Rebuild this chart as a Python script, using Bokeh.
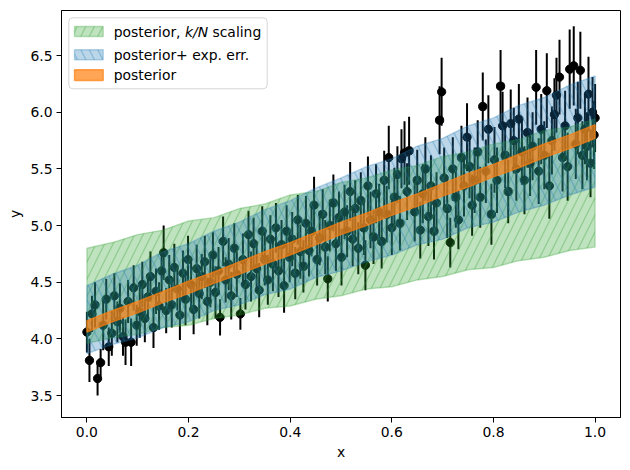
import numpy as np
from bokeh.plotting import figure
from bokeh.models import (Range1d, FixedTicker, PrintfTickFormatter, ColumnDataSource,
                          BoxAnnotation, Label)
from bokeh.embed import file_html
from bokeh.resources import INLINE

# ---------------- data ----------------
x_pts = [0.000, 0.005, 0.010, 0.016, 0.021, 0.027, 0.032, 0.038, 0.043, 0.049,
         0.054, 0.060, 0.065, 0.071, 0.076, 0.081, 0.087, 0.092, 0.098, 0.104,
         0.109, 0.114, 0.120, 0.125, 0.131, 0.136, 0.142, 0.147, 0.151, 0.156,
         0.162, 0.167, 0.172, 0.178, 0.183, 0.189, 0.194, 0.199, 0.205, 0.210,
         0.216, 0.221, 0.226, 0.232, 0.237, 0.243, 0.248, 0.253, 0.259, 0.262,
         0.268, 0.273, 0.279, 0.284, 0.290, 0.295, 0.302, 0.307, 0.312, 0.318,
         0.323, 0.328, 0.334, 0.339, 0.345, 0.350, 0.356, 0.361, 0.366, 0.372,
         0.377, 0.383, 0.388, 0.393, 0.399, 0.404, 0.410, 0.415, 0.420, 0.426,
         0.431, 0.437, 0.442, 0.447, 0.453, 0.458, 0.464, 0.469, 0.474, 0.478,
         0.485, 0.490, 0.496, 0.501, 0.507, 0.512, 0.518, 0.523, 0.528, 0.534,
         0.539, 0.545, 0.548, 0.553, 0.558, 0.564, 0.569, 0.575, 0.580, 0.585,
         0.590, 0.594, 0.600, 0.605, 0.611, 0.616, 0.619, 0.625, 0.630, 0.634,
         0.645, 0.650, 0.656, 0.661, 0.666, 0.672, 0.677, 0.683, 0.688, 0.694,
         0.698, 0.703, 0.709, 0.715, 0.720, 0.726, 0.731, 0.737, 0.742, 0.748,
         0.753, 0.758, 0.763, 0.769, 0.774, 0.779, 0.785, 0.790, 0.796, 0.802,
         0.807, 0.814, 0.818, 0.823, 0.829, 0.834, 0.840, 0.845, 0.850, 0.856,
         0.861, 0.867, 0.872, 0.877, 0.884, 0.889, 0.894, 0.900, 0.905, 0.910,
         0.915, 0.920, 0.924, 0.930, 0.936, 0.941, 0.946, 0.950, 0.958, 0.962,
         0.966, 0.971, 0.975, 0.980, 0.984, 0.987, 0.991, 0.995, 0.998, 1.000]
y_pts = [4.06, 3.81, 4.22, 4.30, 3.65, 3.79, 4.12, 4.35, 3.93, 4.05,
         4.38, 4.15, 4.27, 4.02, 3.97, 4.33, 3.97, 4.45, 4.12, 4.24,
         4.48, 4.18, 4.37, 4.55, 4.10, 4.42, 4.29, 4.60, 4.76, 4.25,
         4.52, 4.30, 4.63, 4.44, 4.21, 4.58, 4.35, 4.70, 4.48, 4.26,
         4.62, 4.40, 4.55, 4.68, 4.33, 4.50, 4.74, 4.41, 4.60, 4.19,
         4.86, 4.52, 4.66, 4.38, 4.80, 4.57, 4.22, 4.70, 4.48, 4.92,
         4.55, 4.84, 4.62, 4.43, 4.95, 4.70, 4.52, 4.88, 4.66, 4.98,
         4.60, 4.83, 4.47, 4.95, 4.72, 4.88, 4.58, 5.05, 4.77, 4.64,
         5.02, 4.78, 4.95, 5.18, 4.70, 4.89, 5.10, 4.81, 4.53, 5.00,
         5.20, 4.84, 5.07, 4.72, 5.12, 4.95, 5.30, 4.88, 5.15, 4.80,
         5.22, 4.98, 4.65, 5.35, 5.05, 4.90, 5.28, 5.12, 4.86, 5.40,
         5.10, 5.60, 4.98, 5.25, 5.45, 5.02, 5.59, 5.64, 5.30, 5.66,
         5.12, 5.40, 4.96, 5.28, 5.50, 5.08, 5.35, 4.95, 5.20, 5.93,
         6.18, 5.42, 5.15, 4.85, 5.50, 5.25, 5.05, 5.60, 5.35, 5.78,
         5.52, 5.18, 5.40, 5.65, 5.25, 6.05, 5.48, 5.85, 5.10, 5.58,
         5.40, 6.23, 5.88, 5.62, 5.30, 5.90, 5.75, 5.50, 5.94, 5.65,
         5.40, 5.82, 5.55, 5.70, 6.22, 5.48, 5.85, 5.62, 6.19, 5.35,
         5.75, 5.98, 6.15, 6.31, 5.60, 5.88, 5.52, 6.38, 6.41, 5.72,
         5.95, 6.37, 5.62, 5.85, 5.70, 6.16, 5.55, 6.00, 5.80, 5.95]
err_pts = [0.18, 0.19, 0.16, 0.20, 0.15, 0.12, 0.22, 0.18, 0.17, 0.20,
           0.20, 0.18, 0.22, 0.17, 0.20, 0.19, 0.21, 0.20, 0.18, 0.23,
           0.20, 0.21, 0.19, 0.22, 0.18, 0.20, 0.21, 0.19, 0.24, 0.20,
           0.22, 0.20, 0.21, 0.19, 0.22, 0.20, 0.23, 0.21, 0.20, 0.22,
           0.21, 0.22, 0.20, 0.23, 0.21, 0.22, 0.20, 0.23, 0.21, 0.16,
           0.22, 0.20, 0.23, 0.21, 0.22, 0.20, 0.14, 0.23, 0.22, 0.21,
           0.22, 0.23, 0.21, 0.24, 0.22, 0.23, 0.22, 0.21, 0.24, 0.22,
           0.23, 0.22, 0.24, 0.23, 0.22, 0.24, 0.23, 0.22, 0.24, 0.23,
           0.24, 0.23, 0.22, 0.25, 0.23, 0.24, 0.22, 0.24, 0.20, 0.23,
           0.25, 0.24, 0.23, 0.25, 0.24, 0.23, 0.26, 0.24, 0.25, 0.23,
           0.25, 0.24, 0.22, 0.26, 0.25, 0.24, 0.26, 0.25, 0.24, 0.26,
           0.25, 0.28, 0.24, 0.26, 0.25, 0.24, 0.26, 0.28, 0.25, 0.30,
           0.26, 0.27, 0.25, 0.26, 0.28, 0.26, 0.27, 0.25, 0.27, 0.30,
           0.30, 0.27, 0.26, 0.22, 0.28, 0.27, 0.26, 0.28, 0.27, 0.30,
           0.28, 0.27, 0.29, 0.28, 0.27, 0.30, 0.28, 0.30, 0.27, 0.29,
           0.29, 0.32, 0.30, 0.29, 0.28, 0.30, 0.29, 0.28, 0.31, 0.29,
           0.30, 0.31, 0.29, 0.30, 0.33, 0.29, 0.31, 0.30, 0.33, 0.29,
           0.30, 0.32, 0.33, 0.33, 0.30, 0.31, 0.30, 0.35, 0.35, 0.31,
           0.32, 0.34, 0.30, 0.31, 0.30, 0.33, 0.30, 0.31, 0.30, 0.30]

band_x = [0.00, 0.05, 0.10, 0.15, 0.20, 0.25, 0.30, 0.35, 0.40, 0.45, 0.50,
          0.55, 0.60, 0.65, 0.70, 0.75, 0.80, 0.85, 0.90, 0.95, 1.00]
green_lo = [3.96, 4.01, 4.04, 4.10, 4.12, 4.18, 4.21, 4.27, 4.29, 4.35, 4.38,
            4.44, 4.46, 4.52, 4.55, 4.61, 4.63, 4.69, 4.72, 4.78, 4.81]
green_hi = [4.80, 4.85, 4.92, 4.96, 5.04, 5.07, 5.15, 5.19, 5.27, 5.30, 5.38,
            5.42, 5.49, 5.53, 5.61, 5.65, 5.72, 5.76, 5.84, 5.87, 5.94]
blue_lo = [3.87, 3.95, 4.01, 4.10, 4.15, 4.25, 4.30, 4.39, 4.44, 4.54, 4.60,
           4.68, 4.74, 4.83, 4.88, 4.98, 5.03, 5.12, 5.18, 5.27, 5.34]
blue_hi = [4.47, 4.57, 4.65, 4.77, 4.84, 4.95, 5.03, 5.14, 5.22, 5.33, 5.42,
           5.52, 5.59, 5.70, 5.77, 5.88, 5.95, 6.06, 6.13, 6.24, 6.32]
orange_lo = [4.06, 4.15, 4.23, 4.32, 4.40, 4.49, 4.57, 4.66, 4.74, 4.83, 4.92,
             5.00, 5.09, 5.17, 5.26, 5.34, 5.43, 5.51, 5.60, 5.68, 5.77]
orange_hi = [4.16, 4.25, 4.33, 4.42, 4.51, 4.59, 4.68, 4.77, 4.85, 4.94, 5.03,
             5.11, 5.20, 5.28, 5.37, 5.46, 5.54, 5.63, 5.72, 5.80, 5.89]

x_ticks = [0.0, 0.2, 0.4, 0.6, 0.8, 1.0]
y_ticks = [3.5, 4.0, 4.5, 5.0, 5.5, 6.0, 6.5]
legend_labels = ["posterior, ", "k/N", "scaling", "posterior+ exp. err.", "posterior"]

# ---------------- styling ----------------
C0, C1, C2 = "#1f77b4", "#ff7f0e", "#2ca02c"
FONT = "DejaVu Sans"
FS = "13.9px"
FW, FH = 559, 407
XR = (-0.05, 1.05)
YR = (3.306, 6.898)

p = figure(width=630, height=470, output_backend="svg", toolbar_location=None,
           x_range=Range1d(*XR), y_range=Range1d(*YR),
           min_border_left=61, min_border_right=10, min_border_top=10,
           min_border_bottom=53, background_fill_color="white",
           border_fill_color="white")
p.xgrid.visible = False
p.ygrid.visible = False
p.outline_line_color = "black"
p.outline_line_width = 1
p.outline_line_alpha = 1

p.xaxis.ticker = FixedTicker(ticks=x_ticks)
p.yaxis.ticker = FixedTicker(ticks=y_ticks)
for ax in (p.xaxis, p.yaxis):
    ax.formatter = PrintfTickFormatter(format="%.1f")
    ax.major_label_text_font = FONT
    ax.major_label_text_font_size = FS
    ax.major_label_text_color = "black"
    ax.axis_label_text_font = FONT
    ax.axis_label_text_font_size = FS
    ax.axis_label_text_font_style = "normal"
    ax.axis_label_text_color = "black"
    ax.major_tick_out = 5
    ax.major_tick_in = 0
    ax.major_tick_line_color = "black"
    ax.minor_tick_line_color = None
    ax.axis_line_color = "black"
    ax.major_label_standoff = 4
    ax.axis_label_standoff = 4
p.xaxis.axis_label = "x"
p.yaxis.axis_label = "y"

# data points with error bars (drawn below the bands)
xs = np.array(x_pts)
ys = np.array(y_pts)
es = np.array(err_pts)
src = ColumnDataSource(dict(x=xs, y=ys, lo=ys - es, hi=ys + es))
p.segment(x0="x", y0="lo", x1="x", y1="hi", source=src, line_color="black", line_width=2)
p.scatter("x", "y", source=src, size=8.3, fill_color="black", line_color="black")


def band(lo, hi, color, alpha, hatch=None):
    bx = list(band_x) + list(band_x)[::-1]
    by = list(hi) + list(lo)[::-1]
    kw = dict(fill_color=color, fill_alpha=alpha, line_color=color,
              line_alpha=alpha, line_width=1.4)
    if hatch:
        kw.update(hatch_pattern=hatch, hatch_color=color, hatch_alpha=alpha,
                  hatch_scale=17, hatch_weight=1.4)
    p.patch(bx, by, **kw)


band(green_lo, green_hi, C2, 0.3, "/")
band(blue_lo, blue_hi, C0, 0.3, "\\")
band(orange_lo, orange_hi, C1, 0.7)


# ---------------- legend (built by hand for the italic k/N) ----------------
def dx(px):
    return XR[0] + px * (XR[1] - XR[0]) / FW


def dy(px):
    return YR[1] - px * (YR[1] - YR[0]) / FH


p.add_layout(BoxAnnotation(left=dx(7.3), right=dx(205.7), top=dy(7.3), bottom=dy(78.3),
                           fill_color="white", fill_alpha=0.8, line_color="#cccccc",
                           line_alpha=0.8, line_width=1, border_radius=4))
rows = [(16.0, 26.0, C2, 0.3, "/"), (39.3, 49.3, C0, 0.3, "\\"), (59.3, 70.0, C1, 0.7, None)]
for top, bot, col, a, h in rows:
    kw = dict(left=dx(13), right=dx(41.7), top=dy(top), bottom=dy(bot),
              fill_color=col, fill_alpha=a, line_color=col, line_alpha=a, line_width=1.4)
    if h:
        kw.update(hatch_pattern=h, hatch_color=col, hatch_alpha=a, hatch_scale=17,
                  hatch_weight=1.4)
    p.add_layout(BoxAnnotation(**kw))

text_rows = [(52.3, 21.0, legend_labels[0], "normal"),
             (123.5, 21.0, legend_labels[1], "italic"),
             (151.0, 21.0, legend_labels[2], "normal"),
             (52.3, 44.3, legend_labels[3], "normal"),
             (52.3, 64.6, legend_labels[4], "normal")]
for tx, ty, t, st in text_rows:
    p.add_layout(Label(x=dx(tx), y=dy(ty), text=t, text_baseline="middle",
                       text_align="left", text_font=FONT, text_font_size=FS,
                       text_font_style=st, text_color="black"))

open("out.html", "w").write(file_html(p, INLINE))
